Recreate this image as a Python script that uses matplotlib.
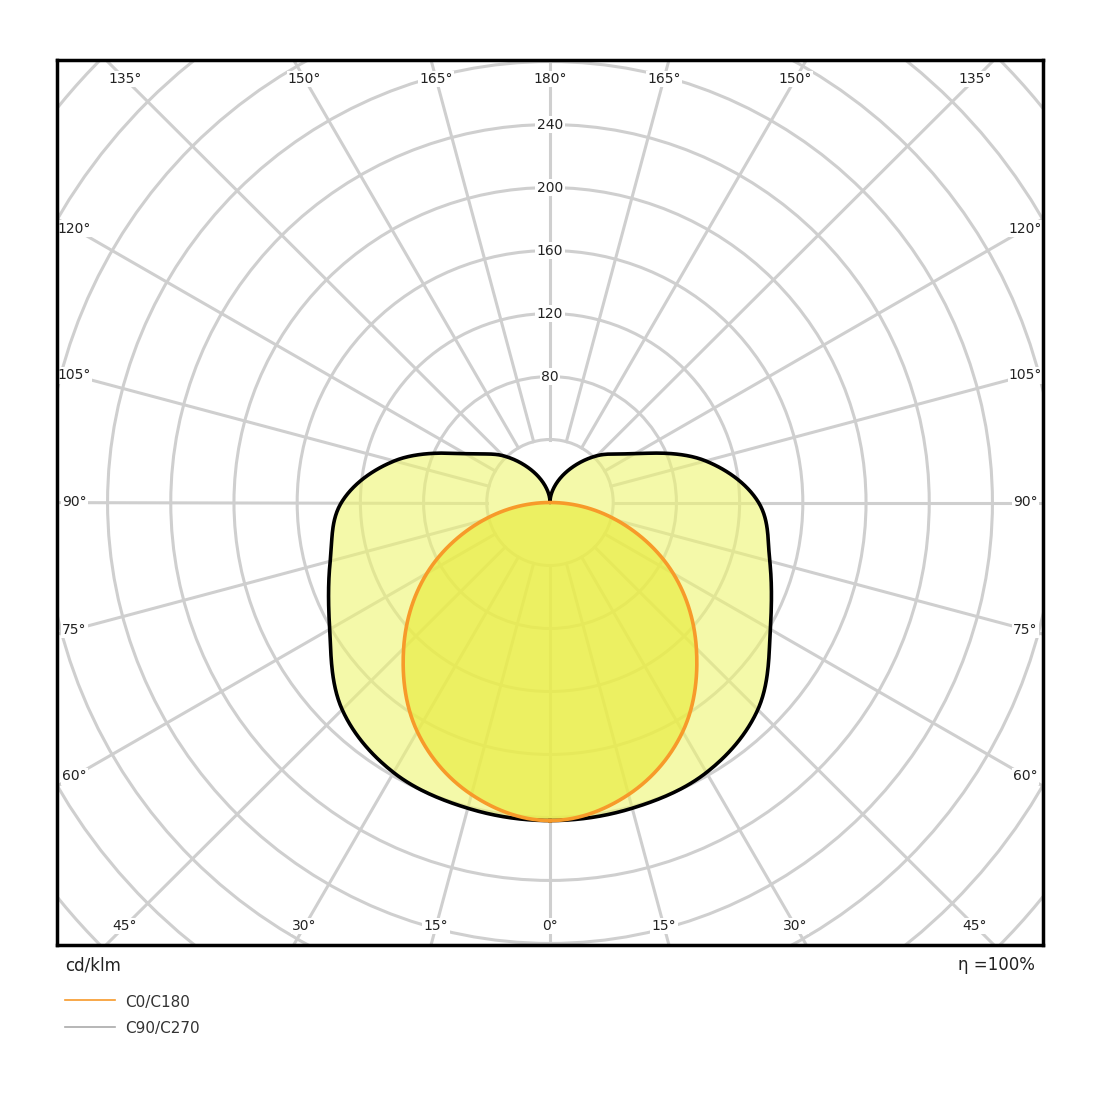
import numpy as np
import matplotlib.pyplot as plt
from matplotlib.patches import Circle

# luminous intensity (cd/klm) vs angle from nadir (deg)
ANG_C90 = [0, 15, 30, 45, 60, 75, 90, 105, 120, 135, 150, 165, 180]
VAL_C90 = [202, 201, 198, 186, 161, 144, 132, 102, 62, 42, 24, 10, 0]
ANG_C0 = [0, 15, 30, 45, 60, 75, 90]
VAL_C0 = [202, 192, 168, 131, 90, 44, 0]
RAD_TICKS = [80, 120, 160, 200, 240]
ANG_LABELS = [0, 15, 30, 45, 60, 75, 90, 105, 120, 135, 150, 165, 180]

HALF_W, HALF_H = 313, 281


def catmull(angles, vals, n=30):
    # smooth curve through the read points (mirror-extended at the ends)
    a = np.asarray(angles, float); v = np.asarray(vals, float)
    va = np.concatenate([[v[1]], v, [v[-2] if v[-1] > 0 else -v[-2]]])
    out_a, out_v = [], []
    for i in range(len(a) - 1):
        p0, p1, p2, p3 = va[i], va[i + 1], va[i + 2], va[i + 3]
        t = np.linspace(0, 1, n, endpoint=False)
        out_v.append(0.5 * (2 * p1 + (-p0 + p2) * t + (2 * p0 - 5 * p1 + 4 * p2 - p3) * t ** 2
                            + (-p0 + 3 * p1 - 3 * p2 + p3) * t ** 3))
        out_a.append(a[i] + (a[i + 1] - a[i]) * t)
    return np.concatenate(out_a + [[a[-1]]]), np.clip(np.concatenate(out_v + [[v[-1]]]), 0, None)


def curve(angles, vals):
    a, r = catmull(angles, vals)
    a = np.radians(a)
    x = np.concatenate([r * np.sin(a), -(r * np.sin(a))[::-1]])
    y = np.concatenate([-r * np.cos(a), (-r * np.cos(a))[::-1]])
    return x, y


fig = plt.figure(figsize=(11, 11), dpi=100)
ax = fig.add_axes([57 / 1100, 155 / 1100, 986 / 1100, 885 / 1100])
ax.set_xlim(-HALF_W + 1, HALF_W - 1)
ax.set_ylim(-HALF_H, HALF_H)
ax.set_xticks([]); ax.set_yticks([])
for s in ax.spines.values():
    s.set_linewidth(2.5)
    s.set_zorder(10)

grid_c = "#cfcfcf"
for rr in range(40, 480, 40):
    ax.add_patch(Circle((0, 0), rr, fill=False, ec=grid_c, lw=2.2, zorder=1))
for d in range(0, 360, 15):
    t = np.radians(d)
    ax.plot([40 * np.sin(t), 500 * np.sin(t)], [-40 * np.cos(t), -500 * np.cos(t)],
            color=grid_c, lw=2.2, zorder=1)

x9, y9 = curve(ANG_C90, VAL_C90)
ax.fill(x9, y9, color="#eef570", alpha=0.6, zorder=2, lw=0)
x0, y0 = curve(ANG_C0, VAL_C0)
ax.fill(x0, y0, color="#e9ec3c", alpha=0.65, zorder=3, lw=0)
ax.plot(x9, y9, color="black", lw=2.6, zorder=5)
ax.plot(x0, y0, color="#f79a2a", lw=2.6, zorder=6)

for v in RAD_TICKS:
    ax.text(0, v, str(v), ha="center", va="center", fontsize=10, color="#222222",
            zorder=7, bbox=dict(fc="white", ec="none", pad=1))

bx, by = 301, 269
for d in ANG_LABELS:
    for sgn in ([1] if d in (0, 180) else [1, -1]):
        t = np.radians(d)
        dx, dy = sgn * np.sin(t), -np.cos(t)
        k = min(bx / abs(dx) if abs(dx) > 1e-9 else 1e9, by / abs(dy) if abs(dy) > 1e-9 else 1e9)
        ax.text(k * dx, k * dy, f"{d}°", ha="center", va="center", fontsize=10,
                color="#222222", zorder=7, bbox=dict(fc="white", ec="none", pad=1))

fig.text(65 / 1100, 1 - 965 / 1100, "cd/klm", ha="left", va="center", fontsize=12, color="#222222")
fig.text(1035 / 1100, 1 - 965 / 1100, "η =100%", ha="right", va="center", fontsize=12, color="#222222")
fig.add_artist(plt.Line2D([65 / 1100, 115 / 1100], [1 - 1000 / 1100] * 2, color="#f79a2a", lw=1.2))
fig.add_artist(plt.Line2D([65 / 1100, 115 / 1100], [1 - 1027 / 1100] * 2, color="#aaaaaa", lw=1.2))
fig.text(125 / 1100, 1 - 1002 / 1100, "C0/C180", ha="left", va="center", fontsize=11, color="#333333")
fig.text(125 / 1100, 1 - 1029 / 1100, "C90/C270", ha="left", va="center", fontsize=11, color="#333333")

fig.savefig("out.png", dpi=100)
